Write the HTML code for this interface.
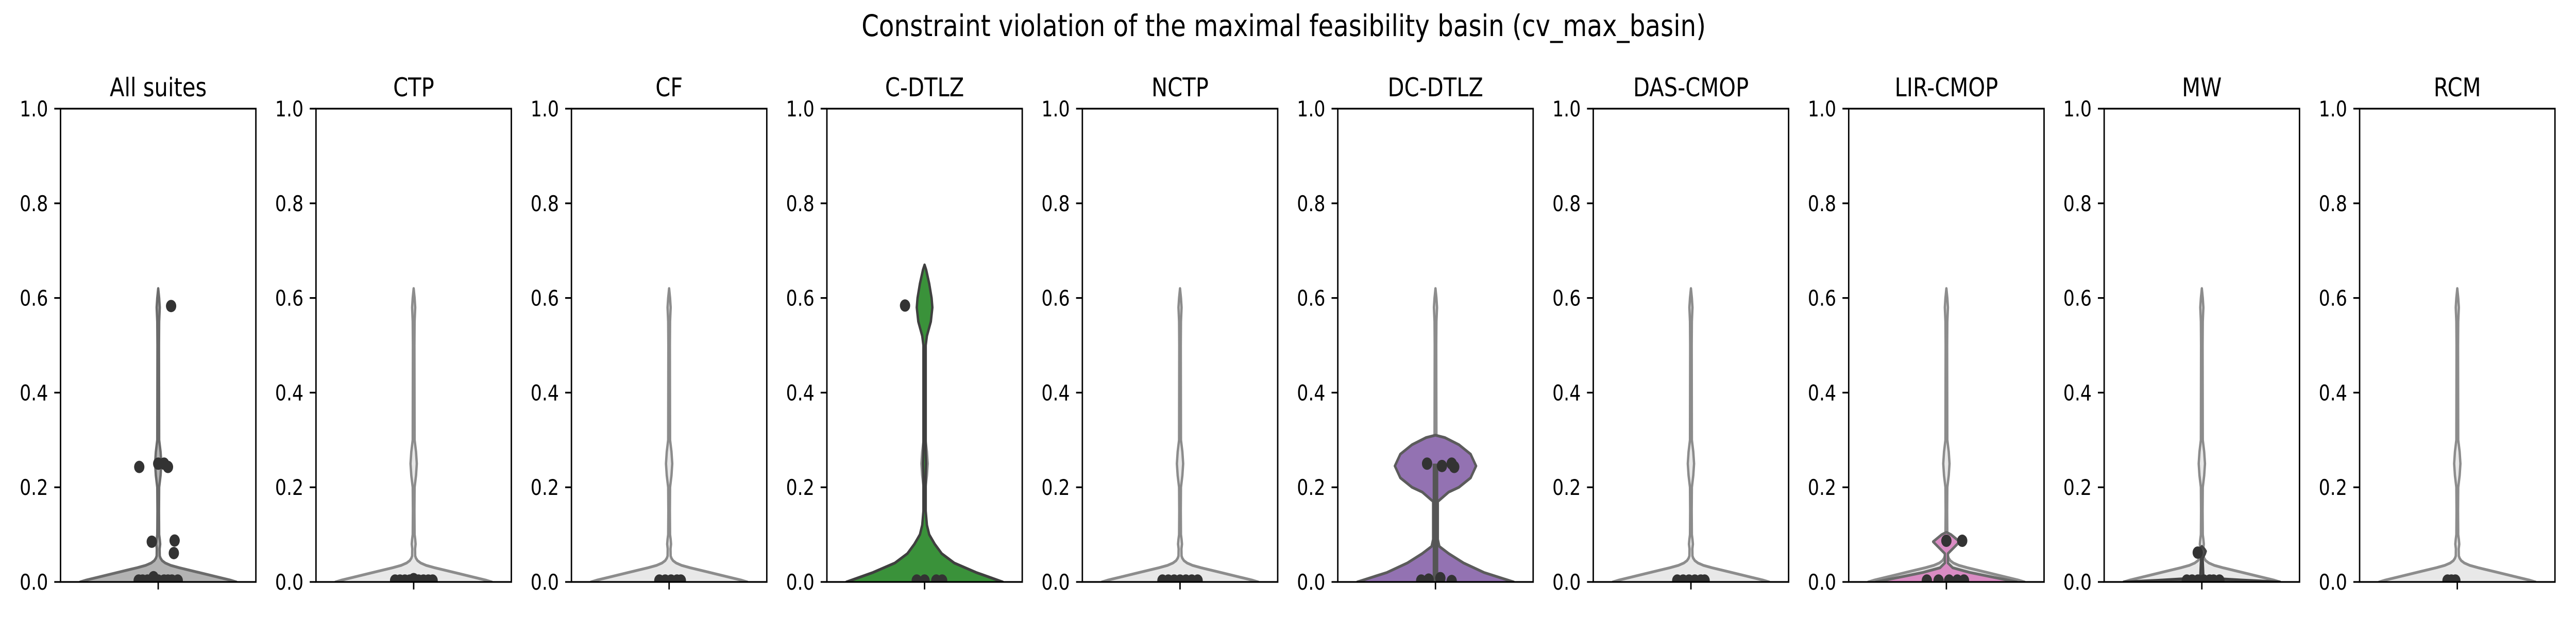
<!DOCTYPE html>
<html><head><meta charset="utf-8">
<style>
html,body{margin:0;padding:0;background:#fff;width:100%;height:100%;overflow:hidden;}
svg{display:block;width:100vw;height:100vh;font-family:"DejaVu Sans","Liberation Sans",sans-serif;}
</style></head>
<body>
<svg id="chart" viewBox="0 0 6000 1200" preserveAspectRatio="none" xmlns="http://www.w3.org/2000/svg">
<rect x="0" y="0" width="6000" height="1200" fill="#fff"/>
<text x="2990" y="70" font-size="58" text-anchor="middle" fill="#000">Constraint violation of the maximal feasibility basin (cv_max_basin)</text>
</svg>
<script>
const panelTitles = ["All suites","CTP","CF","C-DTLZ","NCTP","DC-DTLZ","DAS-CMOP","LIR-CMOP","MW","RCM"];
const yTicks = [0,0.2,0.4,0.6,0.8,1.0];
const yTickLabels = ["0.0","0.2","0.4","0.6","0.8","1.0"];
// overall violin density (y levels, relative half-width)
const allY = [-0.01,0,0.004,0.01,0.02,0.03,0.035,0.04,0.045,0.05,0.055,0.07,0.08,0.09,0.1,0.15,0.2,0.225,0.25,0.275,0.3,0.5,0.55,0.58,0.6,0.62];
const allW = [1.0,1.0,0.92,0.77,0.52,0.27,0.16,0.09,0.05,0.03,0.02,0.018,0.025,0.02,0.012,0.01,0.012,0.03,0.04,0.03,0.012,0.01,0.012,0.02,0.012,0];
// suite violins
const cdtlzY = [-0.01,0,0.02,0.04,0.06,0.08,0.1,0.12,0.15,0.22,0.25,0.28,0.5,0.52,0.55,0.58,0.6,0.63,0.66,0.67];
const cdtlzW = [1.0,1.0,0.66,0.38,0.22,0.13,0.06,0.03,0.015,0.015,0.02,0.015,0.015,0.03,0.08,0.1,0.09,0.06,0.02,0];
const dcdtlzY = [-0.01,0,0.02,0.04,0.06,0.075,0.09,0.17,0.19,0.2,0.22,0.245,0.27,0.29,0.305,0.31];
const dcdtlzW = [1.0,1.0,0.62,0.36,0.17,0.05,0.03,0.03,0.17,0.3,0.45,0.52,0.45,0.3,0.12,0];
const lirY = [-0.01,0,0.01,0.02,0.03,0.04,0.06,0.07,0.085,0.1,0.105];
const lirW = [0.9,0.9,0.6,0.3,0.08,0.02,0.02,0.08,0.17,0.06,0];
const mwY = [-0.01,0,0.004,0.008,0.012,0.05,0.06,0.065,0.07,0.075];
const mwW = [1.0,1.0,0.5,0.1,0.02,0.01,0.04,0.05,0.03,0];
// strip points: x offsets (axis units) and y values per panel
const ptsX = [
 [0.066,-0.097,0,0.03,0.05,-0.033,0.084,0.08,-0.1,-0.08,-0.055,-0.024,0,0.03,0.05,0.07,0.1],
 [-0.095,-0.07,-0.045,-0.02,0,0.025,0.05,0.075,0.097],
 [-0.05,-0.02,0.01,0.04,0.06],
 [-0.1,-0.04,0,0.06,0.09],
 [-0.09,-0.06,-0.03,0,0.03,0.06,0.09],
 [-0.043,0.033,0.083,0.096,-0.073,-0.035,0.025,0.083],
 [-0.07,-0.04,-0.01,0.02,0.05,0.07],
 [0,0.081,-0.1,-0.04,0.014,0.056,0.09],
 [-0.021,-0.077,-0.05,-0.02,0.01,0.04,0.06,0.09],
 [-0.05,-0.03,-0.01]
];
const ptsY = [
 [0.583,0.243,0.25,0.25,0.243,0.085,0.0875,0.061,0.003,0.003,0.003,0.01,0.003,0.003,0.003,0.003,0.003],
 [0.003,0.003,0.003,0.003,0.006,0.003,0.003,0.003,0.003],
 [0.003,0.003,0.003,0.003,0.003],
 [0.584,0.003,0.003,0.003,0.003],
 [0.003,0.003,0.003,0.003,0.003,0.003,0.003],
 [0.25,0.245,0.25,0.243,0.003,0.005,0.008,0.002],
 [0.003,0.003,0.003,0.003,0.003,0.003],
 [0.087,0.087,0.003,0.003,0.003,0.003,0.003],
 [0.062,0.003,0.003,0.003,0.003,0.003,0.003,0.003],
 [0.003,0.003,0.003]
];
const NS = "http://www.w3.org/2000/svg";
const svg = document.getElementById("chart");
const L0 = 141, STEP = 595, AW = 455, TOP = 211, BOT = 1130, MAXHW = 0.4 * AW;
function yS(v){ return BOT - v * (BOT - TOP); }
function mk(tag, attrs, parent){ const e = document.createElementNS(NS, tag); for (const k in attrs) e.setAttribute(k, attrs[k]); (parent||svg).appendChild(e); return e; }
function violinPath(cx, ys, ws){
  let left = [], right = [];
  for (let i = 0; i < ys.length; i++){ left.push([cx - ws[i]*MAXHW, yS(ys[i])]); right.push([cx + ws[i]*MAXHW, yS(ys[i])]); }
  let d = "M" + left.map(p => p[0].toFixed(1)+","+p[1].toFixed(1)).join(" L");
  d += " L" + right.reverse().map(p => p[0].toFixed(1)+","+p[1].toFixed(1)).join(" L") + " Z";
  return d;
}
const defs = mk("defs", {});
for (let i = 0; i < panelTitles.length; i++){
  const L = L0 + i*STEP, cx = L + AW/2;
  const g = mk("g", {});
  
  
  const cp = mk("clipPath", {id: "clip"+i}, defs);
  mk("rect", {x: L, y: TOP, width: AW, height: BOT-TOP}, cp);
  const plot = mk("g", {"clip-path": "url(#clip"+i+")"}, g);
  const base = mk("path", {d: violinPath(cx, allY, allW), fill: i===0 ? "#b3b3b3" : "#e8e8e8", stroke: i===0 ? "#6b6b6b" : "#8c8c8c", "stroke-width": 5.5, "stroke-linejoin": "round"}, plot);
  
  
  let sy = null, sw = null, fill = null, stroke = null;
  if (panelTitles[i] === "C-DTLZ"){ sy = cdtlzY; sw = cdtlzW; fill = "#3a923a"; stroke = "#3f3f3f"; }
  if (panelTitles[i] === "DC-DTLZ"){ sy = dcdtlzY; sw = dcdtlzW; fill = "#9372b2"; stroke = "#5b5b5b"; }
  if (panelTitles[i] === "LIR-CMOP"){ sy = lirY; sw = lirW; fill = "#da8bc3"; stroke = "#6b6b6b"; }
  if (panelTitles[i] === "MW"){ sy = mwY; sw = mwW; fill = "#555555"; stroke = "#444444"; }
  if (sy){
    const sv = mk("path", {d: violinPath(cx, sy, sw), fill: fill, stroke: stroke, "stroke-width": 5.5, "stroke-linejoin": "round"}, plot);
    
    
  }
  if (panelTitles[i] === "DC-DTLZ"){
    const bx = mk("line", {x1: cx, x2: cx, y1: yS(0), y2: yS(0.25), stroke: "#555", "stroke-width": 13}, plot);
    
    
  }
  for (let j = 0; j < ptsX[i].length; j++){
    const c = mk("circle", {cx: cx + ptsX[i][j]*AW, cy: yS(ptsY[i][j]), r: 12, fill: "#333333"}, plot);
    
    
  }
  const fr = mk("rect", {x: L, y: TOP, width: AW, height: BOT-TOP, fill: "none", stroke: "#000", "stroke-width": 3.3}, g);
  
  
  for (let k = 0; k < yTicks.length; k++){
    const y = yS(yTicks[k]);
    mk("line", {x1: L - 14.6, x2: L, y1: y, y2: y, stroke: "#000", "stroke-width": 3.3}, g);
    const t = mk("text", {x: L - 29, y: y + 15, "font-size": 41.7, "text-anchor": "end", fill: "#000"}, g);
    t.textContent = yTickLabels[k];
    
    
  }
  mk("line", {x1: cx, x2: cx, y1: BOT, y2: BOT + 14.6, stroke: "#000", "stroke-width": 3.3}, g);
  const tt = mk("text", {x: cx, y: 187, "font-size": 50, "text-anchor": "middle", fill: "#000"}, g);
  tt.textContent = panelTitles[i];
  
  
}
</script>
</body></html>
